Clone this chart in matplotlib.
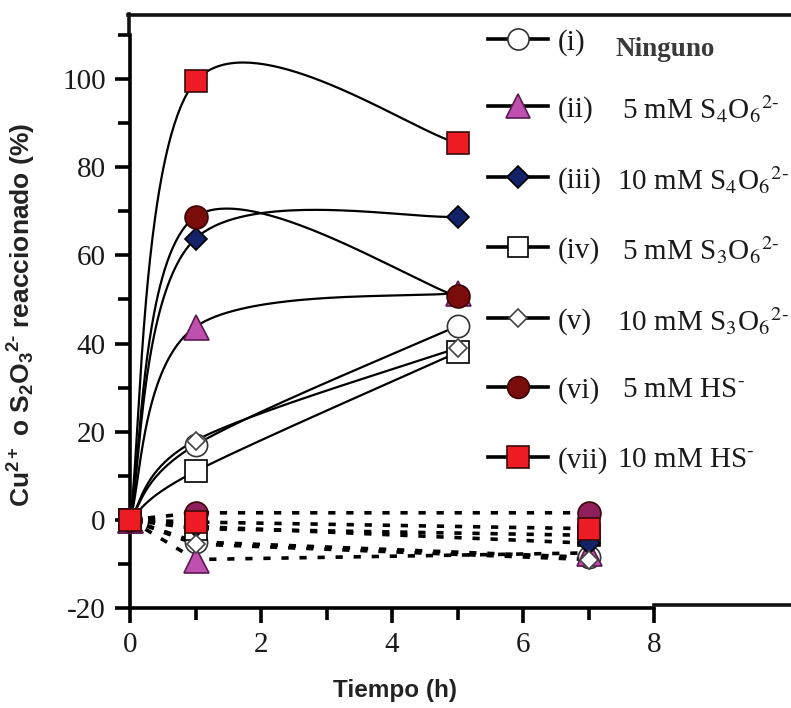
import numpy as np
import matplotlib
matplotlib.use('Agg')
import matplotlib.pyplot as plt
from matplotlib.lines import Line2D

plt.rcParams['mathtext.fontset'] = 'custom'
plt.rcParams['mathtext.rm'] = 'Liberation Sans:bold'
plt.rcParams['mathtext.it'] = 'Liberation Sans:bold'
plt.rcParams['mathtext.bf'] = 'Liberation Sans:bold'
plt.rcParams['axes.unicode_minus'] = False

# data: solid curves sampled at 0, 1, 5 h; dotted (control) curves at 0, 1, 7 h
t_solid = [0, 1, 5]
t_dot = [0, 1, 7]

ids = ['(i)', '(ii)', '(iii)', '(iv)', '(v)', '(vi)', '(vii)']
names = ['Ninguno', r'5 mM S$_4$O$_6$$^{2\text{-}}$', r'10 mM S$_4$O$_6$$^{2\text{-}}$',
         r'5 mM S$_3$O$_6$$^{2\text{-}}$', r'10 mM S$_3$O$_6$$^{2\text{-}}$',
         r'5 mM HS$^{\text{-}}$', r'10 mM HS$^{\text{-}}$']

solid_i = [0, 17, 44]
solid_ii = [0, 43.8, 51.5]
solid_iii = [0, 63.8, 68.8]
solid_iv = [0, 11, 38]
solid_v = [0, 18, 39]
solid_vi = [0, 68.8, 50.7]
solid_vii = [0, 99.5, 85.5]

dot_i = [0, -5, -8.5]
dot_ii = [0, -9, -7.5]
dot_iii = [0, -1.5, -5.3]
dot_iv = [0, -2, -3.5]
dot_v = [0, -5.5, -9]
dot_vi = [0, 1.6, 1.6]
dot_vii = [0, -0.5, -2]

solid = [solid_i, solid_ii, solid_iii, solid_iv, solid_v, solid_vi, solid_vii]
dotted = [dot_i, dot_ii, dot_iii, dot_iv, dot_v, dot_vi, dot_vii]

markers = ['o', '^', 'D', 's', 'D', 'o', 's']
sizes = [16, 18, 11.5, 15.5, 9.5, 16.5, 16.5]
faces = ['white', '#C050B0', '#14226A', 'white', 'white', '#7A0C0C', '#ED1C24']
dot_faces = ['white', '#C050B0', '#14226A', 'white', 'white', '#8E1F5B', '#ED1C24']
edges = ['#333333', '#5a1a50', 'black', 'black', '#444444', '#3a0505', '#3a0a0a']


def smooth(x, y, n=80):
    # Bezier smoothing through the points (spreadsheet style smoothed line)
    p = np.column_stack([x, y]).astype(float)
    p = np.vstack([p[0], p, p[-1]])
    segs = []
    s = np.linspace(0, 1, n)[:, None]
    for k in range(1, len(p) - 2):
        a, b, c, d = p[k - 1], p[k], p[k + 1], p[k + 2]
        c1 = b + (c - a) / 6
        c2 = c - (d - b) / 6
        segs.append((1 - s) ** 3 * b + 3 * (1 - s) ** 2 * s * c1
                    + 3 * (1 - s) * s ** 2 * c2 + s ** 3 * c)
    return np.vstack(segs)


W, H = 791, 708
fig = plt.figure(figsize=(W / 100, H / 100), dpi=100)
ax = fig.add_axes([130 / W, 1 - 608 / H, (654 - 130) / W, (608 - 35) / H])

# dotted control curves
for k in range(7):
    ax.plot(t_dot, dotted[k], color='black', lw=2.6, ls=(0, (2, 3)), zorder=2)
order_dot = [0, 1, 3, 2, 5, 6, 4]
for k in order_dot:
    ax.plot(t_dot, dotted[k], ls='none', marker=markers[k], ms=sizes[k],
            mfc=dot_faces[k], mec=edges[k], mew=1.2, clip_on=False, zorder=3)

# solid smoothed curves
for k in range(7):
    c = smooth(t_solid, solid[k])
    ax.plot(c[:, 0], c[:, 1], color='black', lw=1.6, zorder=4)
for k in [0, 3, 4, 1, 2, 5, 6]:
    ax.plot(t_solid, solid[k], ls='none', marker=markers[k], ms=sizes[k],
            mfc=faces[k], mec=edges[k], mew=1.2, clip_on=False, zorder=5)

ax.set_xlim(0, 8)
ax.set_ylim(-20, 110)
ax.set_xticks([0, 2, 4, 6, 8])
ax.set_xticks([1, 3, 5, 7], minor=True)
ax.set_yticks([-20, 0, 20, 40, 60, 80, 100])
ax.set_yticks([-10, 10, 30, 50, 70, 90, 110], minor=True)
for side in ['top', 'right']:
    ax.spines[side].set_visible(False)
for side in ['left', 'bottom']:
    ax.spines[side].set_linewidth(2.6)
ax.tick_params(which='major', direction='out', length=10.5, width=2.6,
               labelsize=21, pad=7)
ax.tick_params(which='minor', direction='out', length=8.5, width=2.6)
for lab in ax.get_xticklabels() + ax.get_yticklabels():
    lab.set_fontfamily('Liberation Serif')
    lab.set_color('#1a1a1a')
ax.set_facecolor('none')

# frame pieces around the plot
fig.add_artist(Line2D([128 / W, 1], [1 - 15 / H] * 2, color='#111111', lw=2.6))
fig.add_artist(Line2D([129 / W, 129 / W], [1 - 14 / H, 1 - 33 / H], color='#111111', lw=2.6))
fig.add_artist(Line2D([654 / W, 1], [1 - 605 / H] * 2, color='#111111', lw=2.6))

# legend, drawn by hand
row_y = [39, 106, 177, 247, 318, 387, 457]
for k in range(7):
    y = 1 - row_y[k] / H
    fig.add_artist(Line2D([488 / W, 518 / W, 548 / W], [y, y, y], color='black', lw=2.6,
                          marker=markers[k], markevery=[1], ms=sizes[k] * 0.95,
                          mfc=faces[k], mec=edges[k], mew=1.2))
    fig.text(558 / W, y - 4 / H, ids[k], fontsize=21, family='Liberation Serif',
             va='center', ha='left', color='#1a1a1a')
    if k == 0:
        fig.text(615 / W, y - 10 / H, names[k], fontsize=19.5, family='Liberation Serif',
                 weight='bold', va='center', ha='left', color='#3a3a3a')
    else:
        fig.text((622 if k in (1, 3, 5) else 617) / W, y - 3 / H, names[k], fontsize=21,
                 family='Liberation Serif', va='center', ha='left', color='#1a1a1a',
                 math_fontfamily='stix')

fig.text(395 / W, 1 - 690 / H, 'Tiempo (h)', fontsize=17.5, family='Liberation Sans',
         weight='bold', ha='center', va='center', color='#222222')
fig.text(22 / W, 1 - 315 / H, r'Cu$^{2+}$ o S$_2$O$_3$$^{2\text{-}}$ reaccionado (%)',
         fontsize=19, family='Liberation Sans', weight='bold', rotation=90,
         ha='center', va='center', color='#222222')

fig.savefig('out.png', dpi=100)
